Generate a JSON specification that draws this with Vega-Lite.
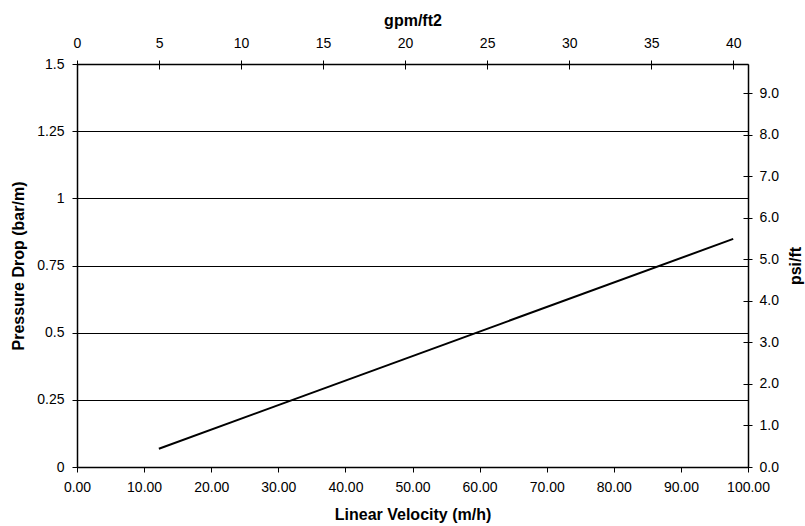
{
  "$schema": "https://vega.github.io/schema/vega-lite/v6.json",
  "width": 671,
  "height": 403,
  "autosize": {"type": "none"},
  "padding": {"left": 77, "top": 64, "right": 57, "bottom": 59},
  "background": "white",
  "config": {
    "font": "Liberation Sans",
    "view": {"stroke": null},
    "axis": {
      "labelFont": "Liberation Sans",
      "titleFont": "Liberation Sans",
      "labelFontSize": 14,
      "titleFontSize": 16,
      "titleFontWeight": "bold",
      "labelColor": "#000",
      "titleColor": "#000",
      "domainColor": "#000",
      "tickColor": "#000",
      "domainWidth": 1.5,
      "tickWidth": 1,
      "grid": false,
      "labelFlush": false,
      "labelOverlap": false
    }
  },
  "layer": [
    {
      "data": {"values": [{"vel": 12.2, "dp": 0.068}, {"vel": 97.8, "dp": 0.849}]},
      "mark": {"type": "line", "color": "#000", "strokeWidth": 2},
      "encoding": {
        "x": {
          "field": "vel", "type": "quantitative",
          "scale": {"domain": [0, 100], "nice": false, "zero": false},
          "axis": {"orient": "bottom", "values": [0, 10, 20, 30, 40, 50, 60, 70, 80, 90, 100], "format": ".2f", "title": "Linear Velocity (m/h)", "tickSize": 5, "labelPadding": 8, "titlePadding": 12}
        },
        "y": {
          "field": "dp", "type": "quantitative",
          "scale": {"domain": [0, 1.5], "nice": false, "zero": false},
          "axis": {"orient": "left", "values": [0, 0.25, 0.5, 0.75, 1, 1.25, 1.5], "format": ".2~f", "title": "Pressure Drop (bar/m)", "grid": true, "gridColor": "#000", "gridWidth": 1, "gridOpacity": 1, "tickSize": 5, "labelPadding": 8, "titlePadding": 10}
        }
      }
    },
    {
      "data": {"values": [{"gpm": 0, "psi": 0}, {"gpm": 40.9, "psi": 9.7}]},
      "mark": {"type": "point", "opacity": 0},
      "encoding": {
        "x": {
          "field": "gpm", "type": "quantitative",
          "scale": {"domain": [0, 40.9], "nice": false, "zero": false},
          "axis": {"orient": "top", "values": [0, 5, 10, 15, 20, 25, 30, 35, 40], "format": "d", "title": "gpm/ft2", "tickSize": 4, "labelPadding": 10, "titlePadding": 8}
        },
        "y": {
          "field": "psi", "type": "quantitative",
          "scale": {"domain": [0, 9.7], "nice": false, "zero": false},
          "axis": {"orient": "right", "values": [0, 1, 2, 3, 4, 5, 6, 7, 8, 9], "format": ".1f", "title": "psi/ft", "titleAngle": 270, "titleBaseline": "top", "tickSize": 4, "labelPadding": 7, "titlePadding": 9}
        }
      }
    },
    {
      "data": {"values": [{"gpm": 0, "psi": 0}, {"gpm": 40.9, "psi": 9.7}]},
      "mark": {"type": "point", "opacity": 0},
      "encoding": {
        "x": {
          "field": "gpm", "type": "quantitative",
          "scale": {"domain": [0, 40.9], "nice": false, "zero": false},
          "axis": {"orient": "top", "values": [0, 5, 10, 15, 20, 25, 30, 35, 40], "labels": false, "domain": false, "title": null, "tickSize": -5}
        },
        "y": {
          "field": "psi", "type": "quantitative",
          "scale": {"domain": [0, 9.7], "nice": false, "zero": false},
          "axis": {"orient": "right", "values": [0, 1, 2, 3, 4, 5, 6, 7, 8, 9], "labels": false, "domain": false, "title": null, "tickSize": -5}
        }
      }
    }
  ],
  "resolve": {"scale": {"x": "independent", "y": "independent"}, "axis": {"x": "independent", "y": "independent"}}
}
